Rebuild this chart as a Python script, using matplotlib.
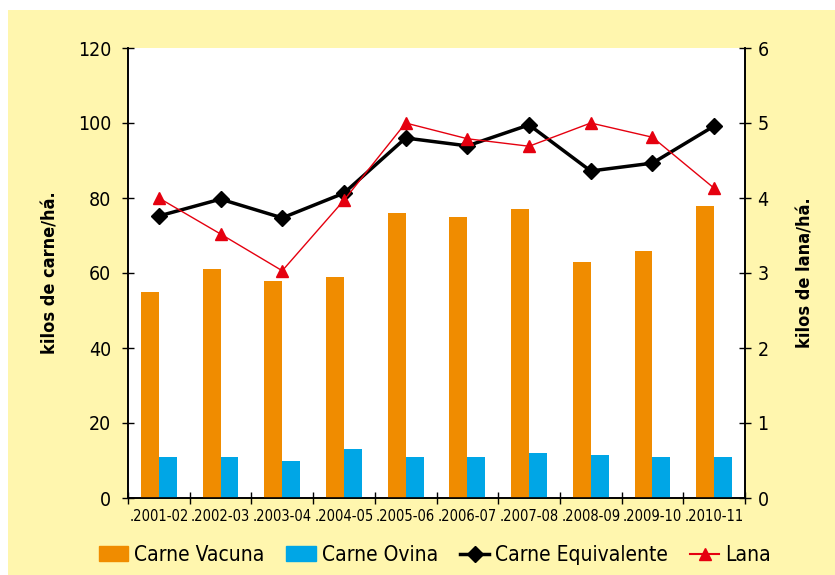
import matplotlib.pyplot as plt
import numpy as np
from matplotlib.patches import Rectangle
from matplotlib.lines import Line2D

plt.rcParams['font.family'] = ['DejaVu Sans']
plt.rcParams['font.stretch'] = 'condensed'

campanas = ['.2001-02', '.2002-03', '.2003-04', '.2004-05', '.2005-06',
            '.2006-07', '.2007-08', '.2008-09', '.2009-10', '.2010-11']
carne_vacuna = [55, 61, 58, 59, 76, 75, 77, 63, 66, 78]
carne_ovina = [11, 11, 10, 13, 11, 11, 12, 11.5, 11, 11]
carne_equivalente = [75.2, 79.7, 74.7, 81.3, 96.0, 93.9, 99.5, 87.2, 89.3, 99.2]
lana = [4.0, 3.52, 3.03, 3.97, 5.0, 4.79, 4.69, 5.0, 4.81, 4.13]

naranja = '#F08C00'
celeste = '#00A6E6'
rojo = '#E5000F'
amarillo = '#FFF6AE'


def main():
    fig = plt.figure(figsize=(8.35, 5.75), dpi=100)
    fig.patch.set_facecolor('white')
    fig.patches.append(Rectangle((8 / 835, 0), 1, 1 - 10 / 575, transform=fig.transFigure,
                                 facecolor=amarillo, edgecolor='none', zorder=-10))

    ax = fig.add_axes([128 / 835, 1 - 498 / 575, 617 / 835, 450 / 575])
    ax2 = ax.twinx()
    ax.set_zorder(ax2.get_zorder() + 1)
    ax.patch.set_visible(False)
    ax2.patch.set_facecolor('white')
    ax2.patch.set_visible(True)

    x = np.arange(len(campanas))
    w = 0.29
    ax.bar(x - w / 2, carne_vacuna, w, color=naranja, label='Carne Vacuna')
    ax.bar(x + w / 2, carne_ovina, w, color=celeste, label='Carne Ovina')
    ax.plot(x, carne_equivalente, color='black', lw=2.5, marker='D', ms=8,
            label='Carne Equivalente', zorder=5)
    ax.plot(x, lana, color=rojo, lw=1, marker='^', ms=9, zorder=6,
            transform=ax2.transData)

    ax.set_xlim(-0.5, len(campanas) - 0.5)
    ax.set_ylim(0, 120)
    ax2.set_ylim(0, 6)
    ax.set_yticks(range(0, 121, 20))
    ax2.set_yticks(range(0, 7))
    ax.set_xticks(x)
    ax.set_xticklabels(campanas, fontsize=10.5)
    ax.set_xticks(np.arange(-0.5, len(campanas), 1), minor=True)
    ax.tick_params(axis='x', which='major', length=0, pad=8)
    ax.tick_params(axis='x', which='minor', direction='inout', length=8, width=1)
    ax.tick_params(axis='y', direction='inout', length=8, labelsize=14, width=1, pad=8)
    ax2.tick_params(axis='y', direction='inout', length=8, labelsize=14, width=1, pad=5)

    for a in (ax, ax2):
        a.spines['top'].set_visible(False)
        for s in ('left', 'right', 'bottom'):
            a.spines[s].set_linewidth(1.2)

    ax.set_ylabel('kilos de carne/há.', fontsize=13, fontweight='bold')
    ax2.set_ylabel('kilos de lana/há.', fontsize=13, fontweight='bold')
    ax.yaxis.set_label_coords(-0.111, 0.5)
    ax2.yaxis.set_label_coords(1.083, 0.5)

    handles = [
        Rectangle((0, 0), 1, 1, color=naranja),
        Rectangle((0, 0), 1, 1, color=celeste),
        Line2D([], [], color='black', lw=2.5, marker='D', ms=8),
        Line2D([], [], color=rojo, lw=1.5, marker='^', ms=9),
    ]
    labels = ['Carne Vacuna', 'Carne Ovina', 'Carne Equivalente', 'Lana']
    fig.legend(handles, labels, loc='center', bbox_to_anchor=(0.521, 1 - 555 / 575),
               ncol=4, frameon=False, fontsize=15, handlelength=1.4,
               handletextpad=0.3, columnspacing=1.05)

    fig.savefig('out.png', dpi=100, facecolor=fig.get_facecolor())


if __name__ == "__main__":
    main()
